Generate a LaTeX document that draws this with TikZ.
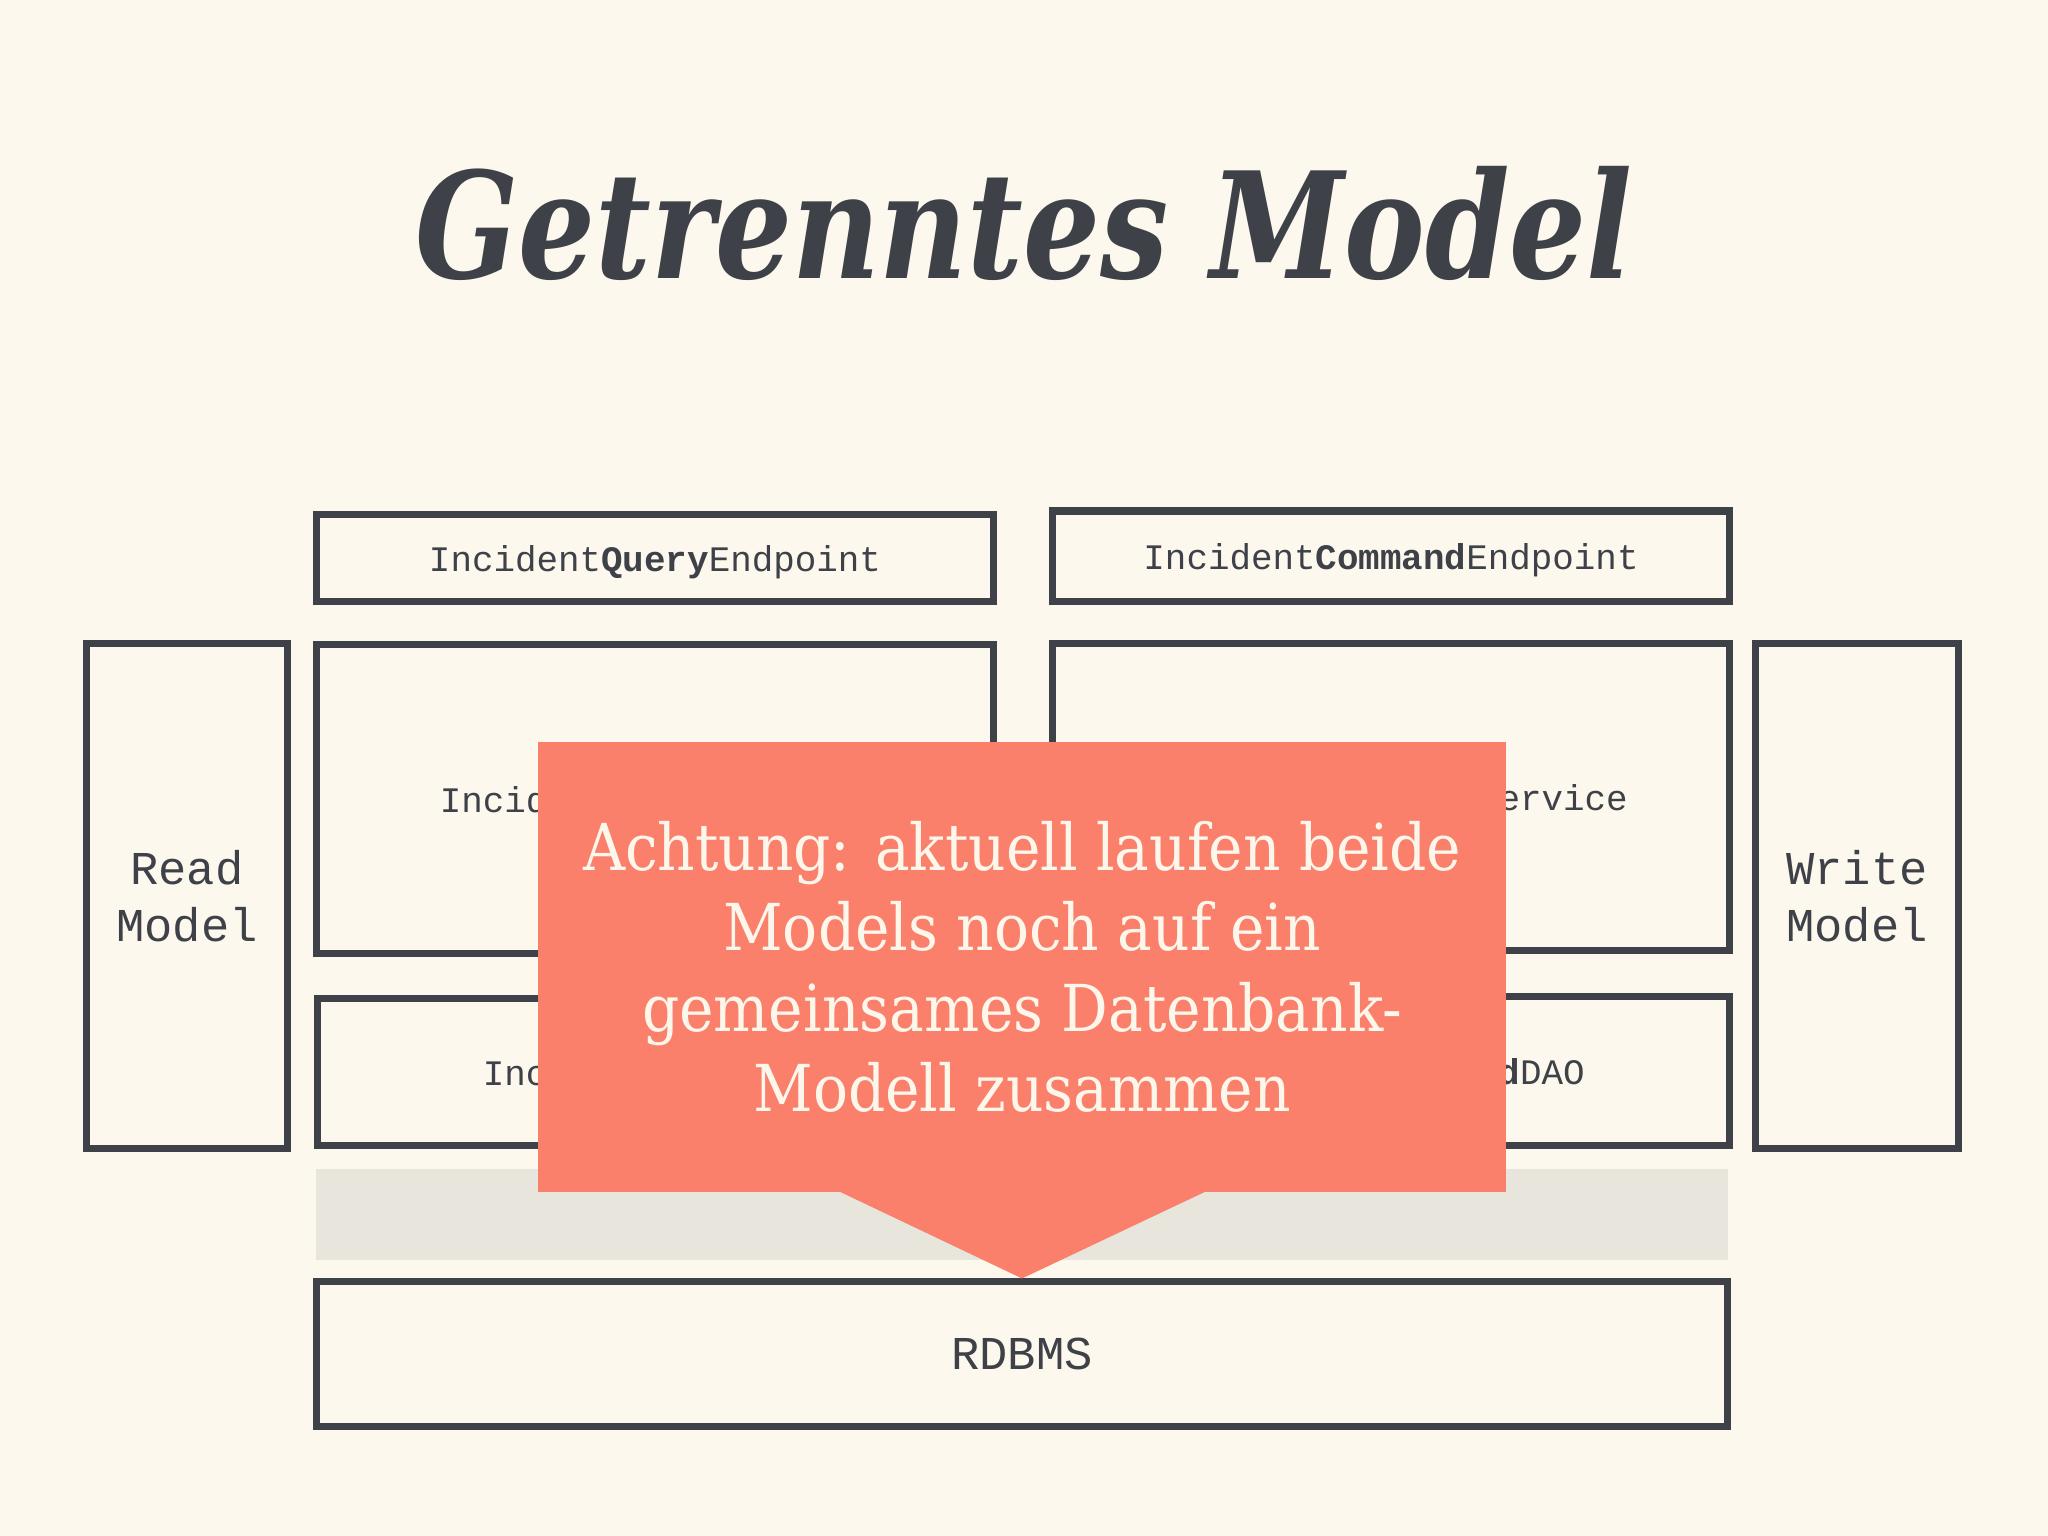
\documentclass[tikz,border=0pt]{standalone}
\usepackage{fontspec}
\setmonofont{Liberation Mono}
\newfontfamily\titlefont{DejaVu Serif Condensed}
\newfontfamily\notefont{DejaVu Serif Condensed}
\usetikzlibrary{calc}
\definecolor{bgcream}{RGB}{253,248,238}
\definecolor{slate}{RGB}{62,66,72}
\definecolor{salmon}{RGB}{250,128,108}
\definecolor{bandgray}{RGB}{232,230,220}
\definecolor{notetext}{RGB}{253,246,234}

\begin{document}
\begin{tikzpicture}[x=0.01cm, y=-0.01cm,
    layer/.style={draw=slate, line width=2pt, fill=bgcream, inner sep=0pt, text=slate,
        text depth=0pt, font=\ttfamily\fontsize{10.2}{12}\selectfont},
    side/.style={layer, align=center, font=\ttfamily\fontsize{13.4}{16.4}\selectfont}]
    % background and title
    \fill[bgcream] (0,0) rectangle (2048,1536);
    \node[anchor=base, text=slate, inner sep=0pt,
        font=\titlefont\bfseries\itshape\fontsize{42}{50}\selectfont] (title) at (1024,278)
        {\scalebox{0.91}[1]{Getrenntes Model}};
    % read side
    \node[layer, minimum width=6.76cm, minimum height=0.87cm] (qend) at (655,558)
        {Incident\textbf{Query}Endpoint};
    \node[layer, minimum width=6.76cm, minimum height=3.08cm] (qsrv) at (655,799)
        {Incident\textbf{Query}Service};
    \node[layer, minimum width=6.74cm, minimum height=1.47cm] (qdao) at (655,1072)
        {Incident\textbf{Query}DAO};
    \node[side, minimum width=2.00cm, minimum height=5.05cm] (rmodel) at (187,896) {Read\\Model};
    % write side
    \node[layer, minimum width=6.77cm, minimum height=0.90cm] (cend) at (1391,556)
        {Incident\textbf{Command}Endpoint};
    \node[layer, minimum width=6.77cm, minimum height=3.06cm] (csrv) at (1391,797)
        {Incident\textbf{Command}Service};
    \node[layer, minimum width=6.77cm, minimum height=1.49cm] (cdao) at (1391,1071)
        {Incident\textbf{Command}DAO};
    \node[side, minimum width=2.02cm, minimum height=5.05cm] (wmodel) at (1857,896) {Write\\Model};
    % shared database
    \fill[bandgray] (316,1169) rectangle (1728,1260);
    \node[side, minimum width=14.11cm, minimum height=1.44cm] (rdbms) at (1022,1354) {RDBMS};
    % callout
    \node[fill=salmon, minimum width=9.68cm, minimum height=4.50cm, inner sep=0pt,
        text=notetext, align=center, font=\notefont\fontsize{18.4}{22.9}\selectfont] (warn) at (1022,967)
        {Achtung: aktuell laufen beide\\Models noch auf ein\\gemeinsames Datenbank-\\Modell zusammen};
    \fill[salmon] ($(warn.south)+(-182,-1)$) -- (rdbms.north) -- ($(warn.south)+(183,-1)$) -- cycle;
\end{tikzpicture}
\end{document}
